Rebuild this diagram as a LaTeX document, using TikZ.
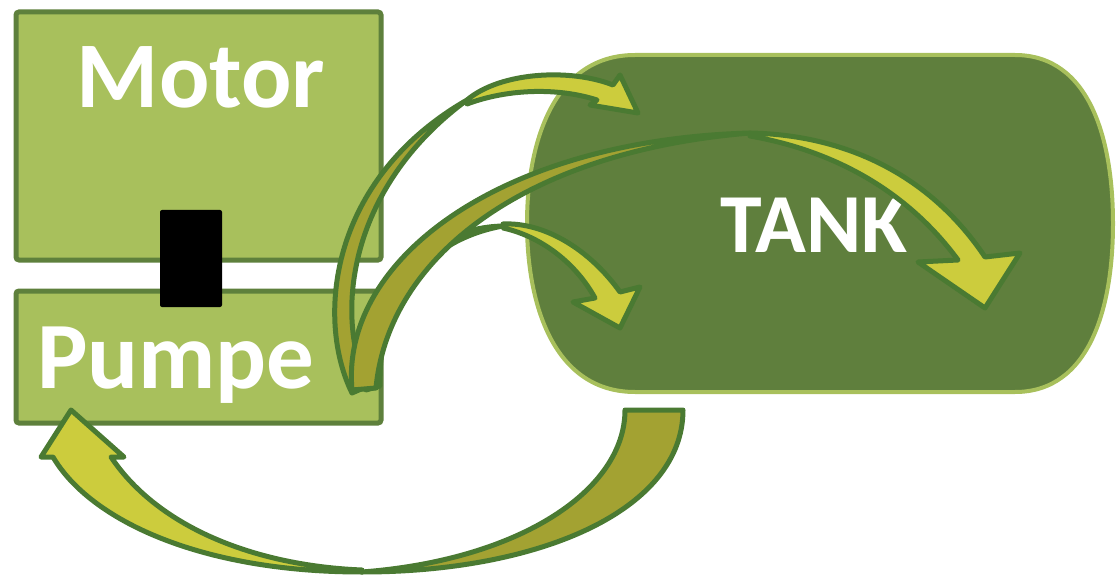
\documentclass[tikz,border=0pt]{standalone}
\usepackage{fontspec}
\setmainfont{Carlito}
\definecolor{boxfill}{HTML}{A8C05C}
\definecolor{boxdraw}{HTML}{5E803C}
\definecolor{tankfill}{HTML}{5F7F3D}
\definecolor{tankdraw}{HTML}{A8C05C}
\definecolor{arrfill}{HTML}{CCCC3D}
\definecolor{arrdraw}{HTML}{4A7A32}
\definecolor{arrback}{HTML}{A3A232}
\tikzset{
  unitbox/.style={fill=boxfill, draw=boxdraw, line width=5pt, rounded corners=3pt},
  tankshape/.style={fill=tankfill, draw=tankdraw, line width=4pt},
  arrfront/.style={fill=arrfill, draw=arrdraw, line width=5pt, line join=round},
  arrbackside/.style={fill=arrback, draw=arrdraw, line width=5pt, line join=round},
  lbl/.style={text=white, font=\bfseries, anchor=base, inner sep=0pt},
}
\begin{document}
\begin{tikzpicture}[x=1pt, y=-1pt]
\useasboundingbox (0,0) rectangle (1120,575);
% boxes
\draw[unitbox] (16,12) rectangle (381,260);
\draw[unitbox] (16,291) rectangle (381,423);
\fill[black, rounded corners=2pt] (160,210) rectangle (222,307);
\node[lbl, font=\fontsize{94}{94}\selectfont\bfseries] (motor) at (201,108) {Motor};
\node[lbl, font=\fontsize{95}{95}\selectfont\bfseries] (pumpe) at (176,388) {Pumpe};
% tank
\draw[tankshape] (635,55) -- (1015,55)
  .. controls (1090,55) and (1113,140) .. (1113,223.5)
  .. controls (1113,307) and (1090,392) .. (1015,392)
  -- (635,392)
  .. controls (555,392) and (527,307) .. (527,223.5)
  .. controls (527,140) and (555,55) .. (635,55) -- cycle;
\node[lbl, font=\fontsize{84}{84}\selectfont\bfseries] (tank) at (814,252) {TANK};
% back sides of the upper arrows
\draw[arrbackside] (352,393) .. controls (316,320) and (328,180) .. (467,100)
  .. controls (345,190) and (335,320) .. (368,386) -- cycle;
\draw[arrbackside] (366,390) .. controls (360,300) and (420,228) .. (503,226)
  .. controls (425,240) and (378,300) .. (380,386) -- cycle;
\draw[arrbackside] (352,390) .. controls (340,260) and (500,140) .. (750,133)
  .. controls (520,152) and (388,260) .. (376,388) -- cycle;
% front sides of the upper arrows
\draw[arrfront] (467,100) .. controls (500,72) and (570,68) .. (613,85)
  -- (620,75) -- (638,113) -- (590,105) -- (597,100)
  .. controls (560,88) and (510,88) .. (467,104) -- cycle;
\draw[arrfront] (503,224) .. controls (545,222) and (590,250) .. (620,292)
  -- (640,287) -- (620,328) -- (573,302) -- (595,298)
  .. controls (575,262) and (540,236) .. (503,228) -- cycle;
\draw[arrfront] (750,133) .. controls (850,135) and (932,178) .. (985,257)
  -- (1020,253) -- (985,308) -- (918,262) -- (958,260)
  .. controls (905,188) and (830,150) .. (750,136) -- cycle;
% return arrow
\draw[arrbackside] (625,410) -- (683,410)
  .. controls (683,510) and (540,572) .. (362,572)
  .. controls (520,560) and (625,490) .. (625,410) -- cycle;
\draw[arrfront] (362,572) .. controls (200,572) and (90,520) .. (53,457)
  -- (41,457) -- (71,410) -- (124,457) -- (111,457)
  .. controls (160,530) and (260,566) .. (362,570) -- cycle;
\end{tikzpicture}
\end{document}
